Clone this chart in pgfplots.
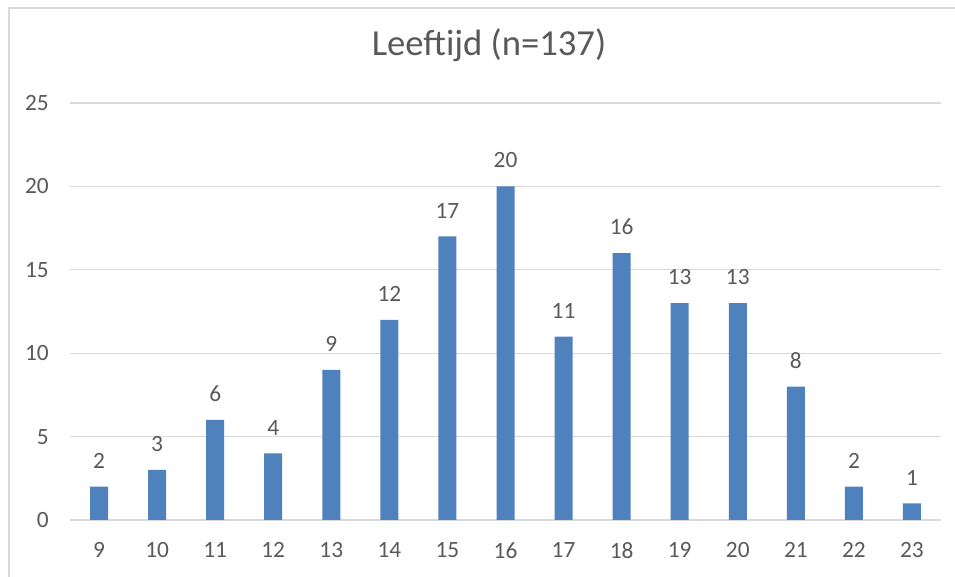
\documentclass[border=0pt]{standalone}
\usepackage{fontspec}
\setmainfont{Carlito}
\usepackage{pgfplots}
\pgfplotsset{compat=1.18}
\definecolor{barblue}{HTML}{4F81BD}
\definecolor{gridgray}{HTML}{D9D9D9}
\definecolor{textgray}{HTML}{595959}

% leeftijd, aantal
\pgfplotstableread{
age count
9 2
10 3
11 6
12 4
13 9
14 12
15 17
16 20
17 11
18 16
19 13
20 13
21 8
22 2
23 1
}\agedata

\begin{document}
\begin{tikzpicture}
  \useasboundingbox (0,0) rectangle (716.25pt,432.75pt);
  \draw[gridgray, line width=1.3pt] (6.75pt,0) -- (6.75pt,426.75pt) -- (716.25pt,426.75pt);
  \node[anchor=base, inner sep=0pt, text=textgray, font=\fontsize{27.5pt}{32pt}\selectfont]
    at (366.75pt,390.75pt) {Leeftijd (n=137)};
  \begin{axis}[
    at={(52.5pt,42.75pt)}, anchor=south west,
    scale only axis, width=653.25pt, height=312.75pt,
    xmin=8.5, xmax=23.5, ymin=0, ymax=25,
    xtick={9,...,23}, ytick={0,5,...,25},
    axis line style={draw=none}, major tick length=0pt,
    ymajorgrids, grid style={gridgray, line width=0.9pt},
    font=\fontsize{17.5pt}{21pt}\selectfont,
    tick label style={text=textgray, inner sep=0pt},
    /pgf/number format/assume math mode=true,
    yticklabel style={anchor=east, xshift=-15.75pt},
    xticklabel style={anchor=north, yshift=-16.5pt},
    ybar, bar width=13.5pt,
    nodes near coords,
    nodes near coords style={anchor=south, inner sep=0pt, yshift=13.5pt, text=textgray,
      /pgf/number format/assume math mode=true},
  ]
    \addplot[fill=barblue, draw=none] table[x=age, y=count] {\agedata};
  \end{axis}
\end{tikzpicture}
\end{document}
